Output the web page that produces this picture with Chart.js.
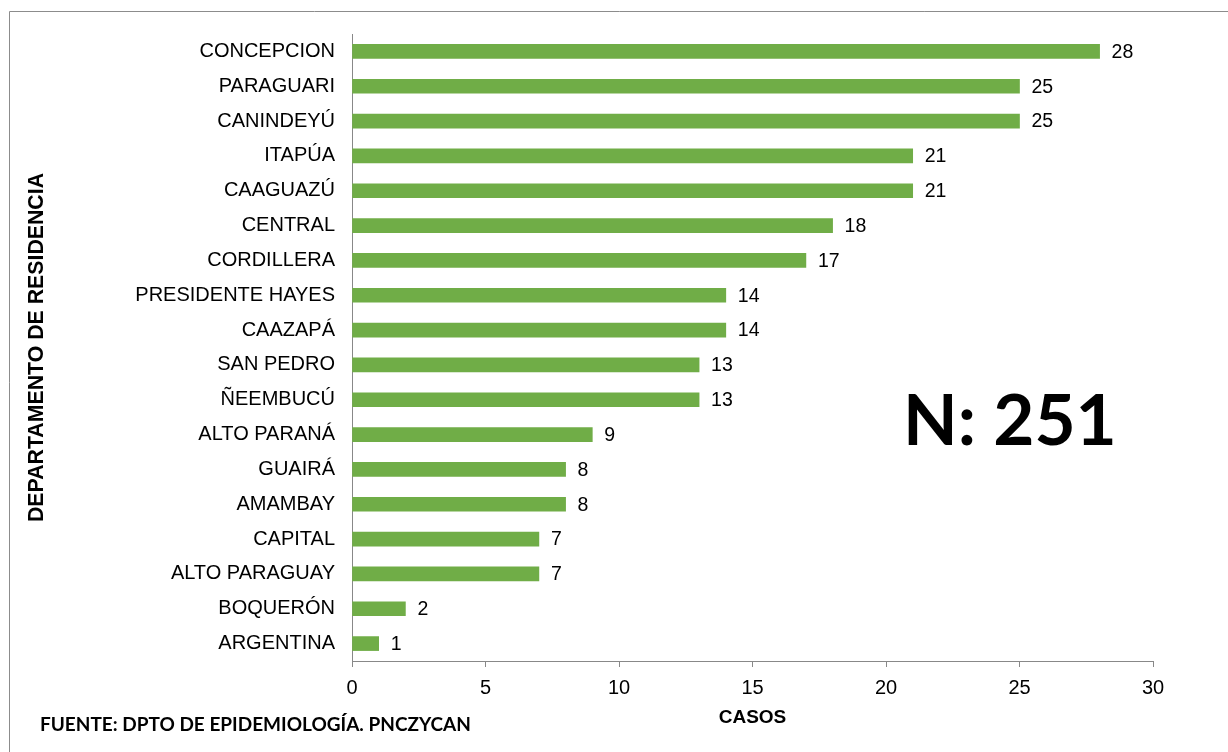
<!DOCTYPE html>
<html lang="es">
  <head>
    <meta charset="UTF-8" />
    <title>Casos por departamento de residencia</title>
    <script src="https://cdn.jsdelivr.net/npm/chart.js"></script>
    <style>
      html, body { margin: 0; padding: 0; background: #fff; }
      canvas { display: block; }
    </style>
  </head>
  <body>
    <canvas id="chart" width="1228" height="752"></canvas>
    <script>
      const departamentos = [
        "CONCEPCION", "PARAGUARI", "CANINDEYÚ", "ITAPÚA", "CAAGUAZÚ", "CENTRAL",
        "CORDILLERA", "PRESIDENTE HAYES", "CAAZAPÁ", "SAN PEDRO", "ÑEEMBUCÚ",
        "ALTO PARANÁ", "GUAIRÁ", "AMAMBAY", "CAPITAL", "ALTO PARAGUAY",
        "BOQUERÓN", "ARGENTINA"
      ];
      const casos = [28, 25, 25, 21, 21, 18, 17, 14, 14, 13, 13, 9, 8, 8, 7, 7, 2, 1];
      const xTicks = [0, 5, 10, 15, 20, 25, 30];
      const totalLabel = "N: 251";
      const fuente = "FUENTE: DPTO DE EPIDEMIOLOGÍA. PNCZYCAN";

      const GREEN = "#70AD47";
      const AXIS = "#888888";
      const ARIAL = "'Liberation Sans', Arial, sans-serif";

      // valores al final de cada barra
      const valueLabels = {
        id: "valueLabels",
        afterDatasetsDraw(chart) {
          const ctx = chart.ctx;
          const meta = chart.getDatasetMeta(0);
          ctx.save();
          ctx.font = "19.5px " + ARIAL;
          ctx.fillStyle = "#000";
          ctx.textBaseline = "middle";
          ctx.textAlign = "left";
          meta.data.forEach((bar, i) => {
            ctx.fillText(String(casos[i]), bar.x + 12, bar.y + 1);
          });
          ctx.restore();
        },
      };

      // marco, N total y fuente
      const extras = {
        id: "extras",
        afterDraw(chart) {
          const ctx = chart.ctx;
          ctx.save();
          ctx.strokeStyle = "#8c8c8c";
          ctx.lineWidth = 1;
          ctx.beginPath();
          ctx.moveTo(1240, 11.5);
          ctx.lineTo(9.5, 11.5);
          ctx.lineTo(9.5, 760);
          ctx.stroke();

          ctx.fillStyle = "#000";
          ctx.textBaseline = "alphabetic";
          ctx.textAlign = "left";
          ctx.font = "bold 71px Lato, 'Open Sans', sans-serif";
          ctx.fillText(totalLabel, 903, 445);

          ctx.font = "bold 19px Lato, 'Open Sans', sans-serif";
          ctx.fillText(fuente, 40, 731, 432);
          ctx.restore();
        },
      };

      new Chart(document.getElementById("chart"), {
        type: "bar",
        data: {
          labels: departamentos,
          datasets: [
            {
              data: casos,
              backgroundColor: GREEN,
              borderWidth: 0,
              barThickness: 14,
            },
          ],
        },
        options: {
          indexAxis: "y",
          responsive: false,
          animation: false,
          devicePixelRatio: 1,
          layout: { padding: { left: 20, top: 34, right: 75, bottom: 23 } },
          plugins: {
            legend: { display: false },
            tooltip: { enabled: false },
          },
          scales: {
            x: {
              min: 0,
              max: 30,
              afterBuildTicks(scale) {
                scale.ticks = xTicks.map((v) => ({ value: v }));
              },
              afterFit(scale) {
                scale.height = 68;
              },
              grid: {
                drawOnChartArea: false,
                drawTicks: true,
                tickLength: 6,
                color: AXIS,
              },
              border: { display: true, color: AXIS },
              ticks: {
                color: "#000",
                padding: 9,
                font: { family: ARIAL, size: 20 },
              },
              title: {
                display: true,
                text: "CASOS",
                color: "#000",
                padding: { top: 4, bottom: 0 },
                font: { family: ARIAL, size: 19, weight: "bold" },
              },
            },
            y: {
              afterFit(scale) {
                scale.width = 332;
              },
              grid: { display: false, drawTicks: false },
              border: { display: true, color: AXIS },
              ticks: {
                color: "#000",
                padding: 17,
                font: { family: ARIAL, size: 20 },
              },
              title: {
                display: true,
                text: "DEPARTAMENTO DE RESIDENCIA",
                color: "#000",
                padding: { top: 4, bottom: 0 },
                font: { family: ARIAL, size: 21.3, weight: "bold" },
              },
            },
          },
        },
        plugins: [valueLabels, extras],
      });
    </script>
  </body>
</html>
